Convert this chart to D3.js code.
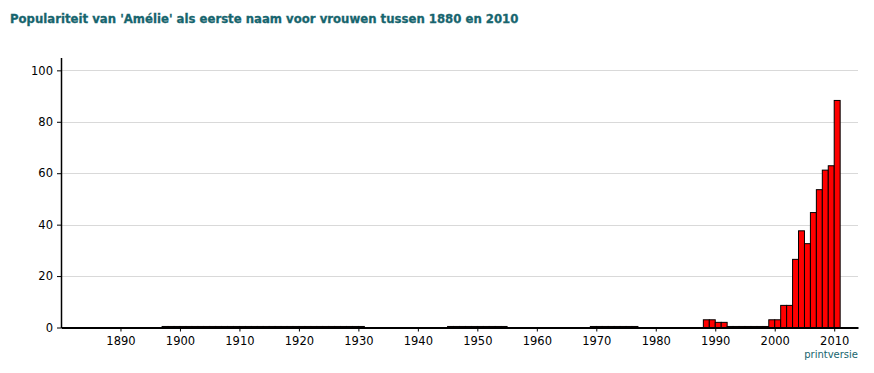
<!DOCTYPE html>
<html>
<head>
<meta charset="utf-8">
<script src="https://cdn.jsdelivr.net/npm/d3@7"></script>
<style>
  body { margin: 0; background: #fff; }
  svg { display: block; }
</style>
</head>
<body>
<div id="chart"></div>
<script>
// Amélie per jaar, 1880 t/m 2010 (geschat uit de grafiek)
var firstYear = 1880;
var values = [
  // 1880-1889
  0, 0, 0, 0, 0, 0, 0, 0, 0, 0,
  // 1890-1899
  0, 0, 0, 0, 0, 0, 0, 0.4, 0.4, 0.4,
  // 1900-1909
  0.4, 0.4, 0.4, 0.4, 0.4, 0.4, 0.4, 0.4, 0.4, 0.4,
  // 1910-1919
  0.4, 0.4, 0.4, 0.4, 0.4, 0.4, 0.4, 0.4, 0.4, 0.4,
  // 1920-1929
  0.4, 0.4, 0.4, 0.4, 0.4, 0.4, 0.4, 0.4, 0.4, 0.4,
  // 1930-1939
  0.4, 0, 0, 0, 0, 0, 0, 0, 0, 0,
  // 1940-1949
  0, 0, 0, 0, 0, 0.4, 0.4, 0.4, 0.4, 0.4,
  // 1950-1959
  0.4, 0.4, 0.4, 0.4, 0.4, 0, 0, 0, 0, 0,
  // 1960-1969
  0, 0, 0, 0, 0, 0, 0, 0, 0, 0.4,
  // 1970-1979
  0.4, 0.4, 0.4, 0.4, 0.4, 0.4, 0.4, 0, 0, 0,
  // 1980-1989
  0, 0, 0, 0, 0, 0, 0, 0, 3, 3,
  // 1990-1999
  2, 2, 0.4, 0.4, 0.4, 0.4, 0.4, 0.4, 0.4, 3,
  // 2000-2010
  3, 8.6, 8.6, 26.5, 37.6, 32.6, 44.7, 53.6, 61.2, 62.9, 88.3
];
var xTicks = [1890, 1900, 1910, 1920, 1930, 1940, 1950, 1960, 1970, 1980, 1990, 2000, 2010];
var yTicks = [0, 20, 40, 60, 80, 100];
var title = "Populariteit van 'Amélie' als eerste naam voor vrouwen tussen 1880 en 2010";

var width = 874, height = 373;
var margin = { left: 61, right: 858, top: 57.5, bottom: 327.5 };
var teal = "#17656e";
var fontFam = "Verdana, 'DejaVu Sans', sans-serif";

var data = values.map(function (v, i) { return { year: firstYear + i, value: v }; });

var svg = d3.select("#chart").append("svg")
  .attr("width", width)
  .attr("height", height);

var xScale = d3.scaleLinear().domain([1880, 2014]).range([margin.left, margin.right]);
var yScale = d3.scaleLinear().domain([0, 105]).range([margin.bottom, margin.top]);

// titel
var t = svg.append("text")
  .attr("x", 10)
  .attr("y", 23)
  .style("font-family", fontFam)
  .style("font-weight", "bold")
  .style("font-size", "14px")
  .style("fill", teal)
  .style("stroke", teal)
  .style("stroke-width", 0.3)
  .text(title);
var tw = t.node().getComputedTextLength();
t.style("font-size", (14 * 509 / tw) + "px");

// rasterlijnen
svg.append("g")
  .selectAll("line")
  .data(yTicks.filter(function (d) { return d > 0; }))
  .enter().append("line")
  .attr("x1", margin.left)
  .attr("x2", margin.right)
  .attr("y1", function (d) { return Math.round(yScale(d)) + 0.5; })
  .attr("y2", function (d) { return Math.round(yScale(d)) + 0.5; })
  .style("stroke", "#d9d9d9")
  .style("stroke-width", 1);

// staven
svg.append("g")
  .selectAll("rect")
  .data(data.filter(function (d) { return d.value > 0; }))
  .enter().append("rect")
  .attr("x", function (d) { return xScale(d.year); })
  .attr("width", function (d) { return xScale(d.year + 1) - xScale(d.year); })
  .attr("y", function (d) { return yScale(d.value); })
  .attr("height", function (d) { return yScale(0) - yScale(d.value); })
  .style("fill", "#ff0000")
  .style("stroke", "#000")
  .style("stroke-width", 1);

// assen
var xAxis = svg.append("g")
  .attr("transform", "translate(0," + margin.bottom + ")")
  .call(d3.axisBottom(xScale).tickValues(xTicks).tickSize(4).tickSizeOuter(0).tickFormat(d3.format("d")));
xAxis.select(".domain").style("stroke", "#000").style("stroke-width", 2);

var yAxis = svg.append("g")
  .attr("transform", "translate(" + margin.left + ",0)")
  .call(d3.axisLeft(yScale).tickValues(yTicks).tickSize(4).tickSizeOuter(0));
yAxis.select(".domain").style("stroke", "#000").style("stroke-width", 1.5);

svg.selectAll(".tick text")
  .style("font-family", fontFam)
  .style("font-size", "11.5px")
  .style("fill", "#000");
xAxis.selectAll(".tick text").attr("dy", "0.9em");
yAxis.selectAll(".tick text").attr("x", -8);

// printversie link
svg.append("text")
  .attr("x", 858)
  .attr("y", 358)
  .style("text-anchor", "end")
  .style("font-family", fontFam)
  .style("font-size", "10px")
  .style("fill", teal)
  .text("printversie");
</script>
</body>
</html>
